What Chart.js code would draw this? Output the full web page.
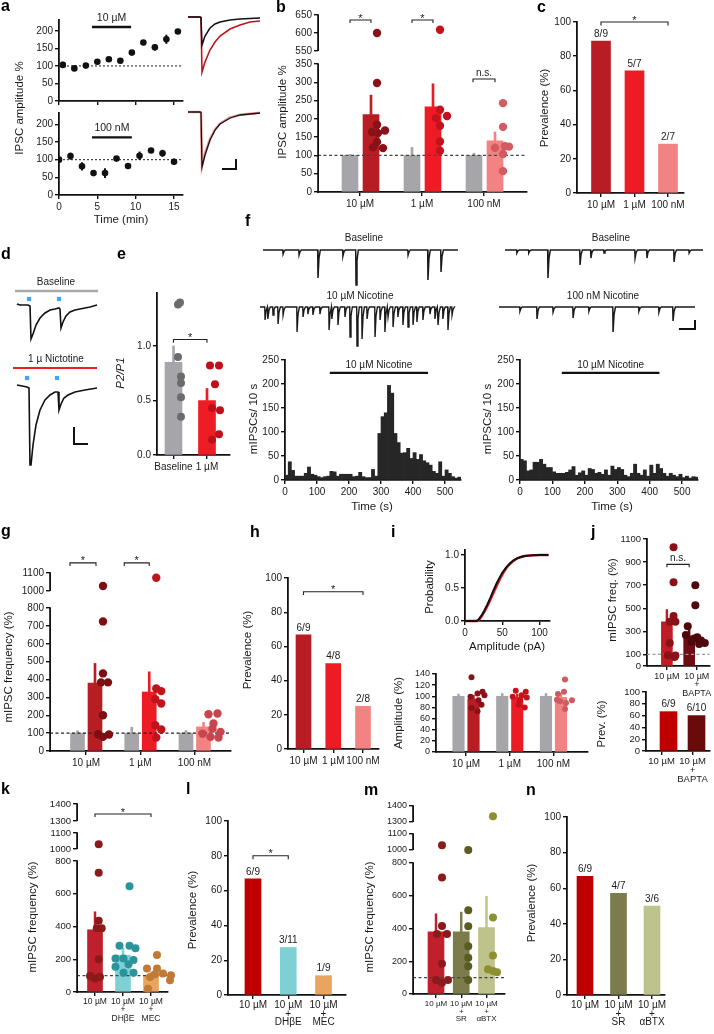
<!DOCTYPE html>
<html><head><meta charset="utf-8">
<script src="https://cdn.jsdelivr.net/npm/chart.js@4.4.1/dist/chart.umd.min.js"></script>
<style>
html,body{margin:0;padding:0;background:#fff;}
#wrap{position:relative;width:714px;height:1034px;overflow:hidden;background:#fff;}
#wrap canvas{position:absolute;left:0;top:0;pointer-events:none;}
.lab{position:absolute;font:bold 16px 'Liberation Sans',Arial,sans-serif;line-height:16px;color:#000;}
</style></head><body><div id="wrap"></div>
<script>
// ================= DATA =================
const doseCats=['10 µM','1 µM','100 nM'];
// a
const aTopTime=[0.5,2,3.5,5,6.5,8,9.5,11,12.5,14,15.5];
const aTopAmp=[103,93,101,112,119,115,138,167,153,176,198];
const aTopSem=[8,3,3,4,4,3,4,4,8,12,4];
const aBotTime=[0,1.5,3,4.5,6,7.5,9,10.5,12,13.5,15];
const aBotAmp=[100,110,81,62,62,103,82,111,126,118,94];
const aBotSem=[4,9,11,7,13,4,7,11,4,9,8];
const aTimeTicks=[0,5,10,15];
const aAmpTicks=[0,50,100,150,200];
const aTraceCtrl10=[[0,0],[12,0],[13,-5],[14,-280],[17,-190],[22,-110],[27,-70],[32,-50],[42,-30],[52,-20],[72,-10]];
const aTraceNic10=[[0,0],[12,0],[13,-5],[14,-550],[17,-450],[22,-330],[27,-250],[32,-190],[42,-120],[52,-80],[62,-50],[72,-40]];
const aTraceCtrl100=[[0,0],[12,0],[13,-5],[14,-550],[17,-430],[22,-280],[27,-180],[32,-120],[42,-60],[52,-30],[72,-10]];
const aTraceNic100=[[0,0],[12,0],[13,-5],[14,-540],[17,-410],[22,-270],[27,-175],[32,-115],[42,-55],[52,-28],[72,-8]];
// b
const bCtrl=[100,100,100], bCtrlSem=[3,22,6];
const bNic=[212,233,140], bNicSem=[53,63,24];
const bDots10=[600,298,184,168,164,161,137,122,120];
const bDots1=[609,225,202,208,181,138,113];
const bDots100=[243,178,121,125,124,104,57];
const bTicks=[0,50,100,150,200,250,300,350,550,600,650];
// c
const cPrev=[88.9,71.4,28.6], cFrac=['8/9','5/7','2/7'];
const prevTicks=[0,20,40,60,80,100];
// d
const dTraceBase=[[0,0],[3,-10],[11,-10],[13,-20],[14,-350],[16,-300],[19,-210],[23,-140],[28,-90],[33,-60],[38,-50],[42,-40],[43,-50],[44,-240],[46,-180],[49,-120],[53,-80],[58,-60],[63,-50],[68,-40],[73,-30],[80,-10]];
const dTraceNic=[[0,10],[5,0],[10,-10],[12,-20],[13,-790],[14,-790],[16,-590],[19,-390],[23,-240],[28,-140],[33,-90],[38,-60],[41,-60],[42,-240],[44,-180],[47,-120],[51,-90],[58,-60],[68,-40],[80,-20]];
const dStimBase=[12,42], dStimNic=[10,40];
// e
const eCats=['Baseline','1 µM'];
const eMean=[0.85,0.50], eSem=[0.15,0.11];
const eDotsBase=[1.40,1.38,0.90,0.72,0.66,0.53,0.35];
const eDotsNic=[0.82,0.82,0.65,0.43,0.41,0.19,0.14];
// f traces (event time s, amplitude pA)
const fBaseLT=[1.03,1.85,2.82,4.1,4.77,7.44,8.46,9.13], fBaseLA=[8,10,56,12,70,10,60,44];
const fNicLT=[0.26,0.41,0.67,0.93,1.19,1.91,2.22,2.47,2.73,3.09,3.56,3.71,4.02,4.38,4.64,5.0,5.26,5.52,5.93,6.19,6.44,6.6,6.86,7.11,7.37,7.63,7.89,8.09,8.4,8.76,9.02,9.18,9.43,9.69,9.9];
const fNicLA=[26,24,16,34,16,50,20,14,16,14,46,24,36,20,60,78,64,24,60,26,50,20,40,20,36,40,36,30,26,14,24,36,24,46,16];
const fBaseRT=[0.6,1.2,2.17,3.79,4.34,5.0,6.57,7.17,8.54,9.3], fBaseRA=[6,6,56,30,16,6,16,16,24,6];
const fNicRT=[1.07,1.94,2.76,3.78,4.59,5.82,7.14,8.16,8.88], fNicRA=[8,24,10,22,8,50,8,10,28];
// f histograms (mIPSCs per 10 s bin)
const fHistL=[10,38,20,8,8,8,14,27,12,10,7,5,7,8,18,17,8,12,12,12,12,7,8,16,7,5,5,22,8,97,132,140,197,181,97,78,56,57,66,45,57,43,53,40,36,31,18,14,38,8,21,14,7,4,6];
const fHistR=[43,40,19,21,37,37,43,33,26,26,17,14,14,14,16,21,28,10,15,19,10,24,22,14,16,12,21,10,29,22,26,22,10,7,14,33,14,10,21,8,31,14,33,24,14,8,14,10,7,12,5,8,4,7,6];
const fTimeTicks=[0,100,200,300,400,500];
const fCountTicks=[0,50,100,150,200,250];
const fStimL=[140,447], fStimR=[129,430];
// g
const gCtrl=[100,100,100], gCtrlSem=[13,33,15];
const gNic=[380,330,135], gNicSem=[110,113,25];
const gDots10=[1028,725,434,384,384,200,94,79,92];
const gDots1=[1074,350,335,290,266,144,120,75];
const gDots100=[206,210,154,125,97,107,79,75];
const gTicks=[0,100,200,300,400,500,600,700,800,1000,1100];
// h
const hPrev=[66.7,50,25], hFrac=['6/9','4/8','2/8'];
// i
const iCdfBlack=[[0,0],[15,0],[18,0.02],[22,0.08],[26,0.16],[30,0.25],[34,0.35],[38,0.46],[42,0.56],[46,0.65],[50,0.73],[55,0.81],[60,0.87],[65,0.92],[70,0.95],[75,0.97],[80,0.985],[90,0.995],[100,1],[112,1]];
const iCdfRed=[[0,0],[17,0],[20,0.03],[24,0.1],[28,0.18],[32,0.27],[36,0.37],[40,0.47],[44,0.57],[48,0.66],[52,0.74],[56,0.81],[60,0.86],[65,0.91],[70,0.95],[75,0.97],[80,0.985],[90,0.995],[100,1],[112,1]];
const iCtrl=[100,100,100], iCtrlSem=[4,5,5];
const iNic=[95,98,98], iNicSem=[7,6,7];
const iDots10=[134,108,105,99,102,93,85,79,73];
const iDots1=[110,108,102,99,98,93,85,80];
const iDots100=[130,108,104,94,93,91,88,77];
const iAmpTicks=[0,20,40,60,80,100,120,140];
// j
const jCats=['10 µM',['10 µM','+','BAPTA']];
const jMean=[383,262], jSem=[106,55];
const jDots10=[1028,725,434,384,384,200,94,79,92];
const jDotsBapta=[700,527,345,268,250,239,220,210,200,190];
const jTicks=[0,100,300,500,700,900,1100];
const jPrev=[66.7,60], jFrac=['6/9','6/10'];
// k
const kCats=['10 µM',['10 µM','+','DHβE'],['10 µM','+','MEC']];
const kMean=[380,225,100], kSem=[110,42,23];
const kDots10=[1030,728,435,390,390,200,98,82,92];
const kDotsDh=[646,283,283,267,205,205,195,170,154,117,117];
const kDotsMec=[226,144,144,113,109,92,103,72,20];
const kmTicks=[0,200,400,600,800,1000,1100,1300,1400];
// l
const lPrev=[66.7,27.3,11.1], lFrac=['6/9','3/11','1/9'];
// m
const mCats=['10 µM',['10 µM','+','SR'],['10 µM','+','αBTX']];
const mMean=[380,380,406], mSem=[110,120,191];
const mDots10=[1030,712,416,366,366,185,85,68,85];
const mDotsSr=[1000,511,414,292,221,169,85];
const mDotsBtx=[1336,467,235,151,141,133];
// n
const nPrev=[66.7,57.1,50], nFrac=['6/9','4/7','3/6'];

// ---- dot jitter (px, relative to the bar centre) ----
const bJit=[[6,6,6,14,1,7,6,2,12],[7,7,3,14,7,7,7],[8,8,0,10,14,8,8]];
const eJit=[[6.5,4.5,4.5,7.5,7.5,7.5,7.5],[3,12,8,5,13,12,5]];
const gJit=[[8,8,8,6,13,8,3,8,14],[7,7,12,6,12,6,12,7],[5,14,10,9,-1,17,7,15]];
const iJit=[[-2,9,4,-3,11,5,8,-2,4],[-1.5,8.5,4.5,-4.5,9.5,2.5,1.5,7.5],[4,3,-3,-4,11,-1,5,4]];
const jJit=[[7,7,7,3,9,3,1,8,9],[6.5,6.5,-1.5,-3.5,8.5,5.5,12.5,2.5,16.5,10.5]];
const kJit=[[3.7,3.7,3.7,1.7,6.7,3.7,-5,0,5],[6.5,-3.5,6.5,12.5,-7.5,0.5,10.5,5.5,-7.5,0.5,10.5],[6,-4,6,12,4,-1,20,19,-3]];
const mJit=[[6,6,6,1,11,6,0,6,12],[7,7,7,7,7,7,7],[6.5,6.5,6.5,1.5,6.5,10.5]];

// ================= SETUP =================
const W=714,H=1034;
const FONT="'Liberation Sans', Arial, Helvetica, sans-serif";
Chart.defaults.font.family=FONT;
Chart.defaults.font.size=10;
Chart.defaults.color='#1a1a1a';
const GRAY='#a6a6aa', C10='#b81d24', C1='#ed1c24', C100='#f38383';
const RED='#c00000';

class BrokenScale extends Chart.LinearScale {
  _sg(){const s=this.chart.canvas._segs;const tot=s.reduce((a,g)=>a+g.h+(g.gap||0),0);return {s,k:(this.bottom-this.top)/tot};}
  getPixelForValue(v){
    const {s,k}=this._sg(); let y=this.bottom;
    for(let i=0;i<s.length;i++){const g=s[i];
      if(v<=g.max||i===s.length-1) return y-(v-g.min)/(g.max-g.min)*g.h*k;
      y-=(g.h+(g.gap||0))*k;}
    return y;
  }
  getValueForPixel(p){
    const {s,k}=this._sg(); let y=this.bottom;
    for(let i=0;i<s.length;i++){const g=s[i];const top=y-g.h*k;
      if(p>=top||i===s.length-1) return g.min+(y-p)/(g.h*k)*(g.max-g.min);
      y=top-(g.gap||0)*k;}
    return 0;
  }
}
BrokenScale.id='broken';
BrokenScale.defaults={};
Chart.register(BrokenScale);
Chart.register({id:'brokenBorder',afterDraw(chart){
  const segs=chart.canvas._segs; if(!segs) return;
  const s=chart.scales.y,ctx=chart.ctx; ctx.save(); ctx.strokeStyle='#111'; ctx.lineWidth=1.8;
  const x=Math.round(s.right)+0.1; ctx.beginPath();
  segs.forEach(g=>{ctx.moveTo(x,s.getPixelForValue(g.min)+(g.min===0?0.9:0));ctx.lineTo(x,s.getPixelForValue(g.max)-0.7);});
  ctx.stroke(); ctx.restore();}});

function txt(items){return {id:'txt',afterDraw(chart){
  const ctx=chart.ctx;
  items.forEach(it=>{
    let x=it.x,y=it.y;
    if(it.d){x=chart.scales.x.getPixelForValue(it.x);y=chart.scales.y.getPixelForValue(it.y);}
    x+=it.dx||0;y+=it.dy||0;
    ctx.save();
    ctx.font=(it.st||'')+' '+(it.s||10)+'px '+FONT;
    ctx.fillStyle=it.c||'#1a1a1a';ctx.textAlign=it.al||'center';ctx.textBaseline=it.bl||'middle';
    ctx.translate(x,y); if(it.rot) ctx.rotate(it.rot*Math.PI/180);
    ctx.fillText(it.t,0,0); ctx.restore();
  });}};}

const wrap=document.getElementById('wrap');
function mk(area,cfg,segs){
  const c=document.createElement('canvas'); c.width=W;c.height=H;c.style.width=W+'px';c.style.height=H+'px';
  c._segs=segs; wrap.appendChild(c);
  const o=cfg.options,sc=o.scales,M=40;
  const xh=sc.x.display===false, yh=sc.y.display===false;
  Object.assign(o,{responsive:false,maintainAspectRatio:false,animation:false,devicePixelRatio:1,events:[]});
  o.layout={padding:{left:yh?area.l:area.l-M,top:area.t,right:W-area.r,bottom:xh?H-area.b:H-area.b-M}};
  o.plugins={legend:{display:false},tooltip:{enabled:false}};
  if(!xh) sc.x.afterFit=s=>{s.height=M;};
  if(!yh) sc.y.afterFit=s=>{s.width=M;};
  return new Chart(c,cfg);
}
const GRID={display:true,drawOnChartArea:false,drawTicks:true,tickLength:4,tickWidth:1.4,tickColor:'#111',color:'#111',lineWidth:1.4,offset:false};
function yAx(min,max,tv,o={}){return {type:o.broken?'broken':'linear',min,max,bounds:'data',
  afterBuildTicks:s=>{s.ticks=tv.map(v=>({value:v}));},
  ticks:{autoSkip:false,padding:2,font:{size:o.fs||10},color:'#1a1a1a',callback:o.fmt||(v=>String(v))},
  grid:GRID,border:{display:!o.broken,color:'#111',width:1.8}};}
function xAx(min,max,tv,labels,o={}){return {type:'linear',min,max,bounds:'data',offset:false,
  afterBuildTicks:s=>{s.ticks=tv.map(v=>({value:v}));},
  ticks:{autoSkip:false,maxRotation:0,minRotation:0,padding:o.pad??2,display:!o.noLabels,font:{size:o.fs||10,lineHeight:o.lh||1.2},color:'#1a1a1a',callback:(v,i)=>labels[i]},
  grid:GRID,border:{display:true,color:'#111',width:1.8}};}
const L=(pts,color,w,extra)=>Object.assign({type:'line',data:pts.map(p=>({x:p[0],y:p[1]})),borderColor:color,borderWidth:w,pointRadius:0,tension:0,fill:false,clip:false},extra||{});

function barPanel(area,S){
  const u=p=>p/S.sp, ds=[], T=[...(S.texts||[])];
  S.bars.forEach(b=>{
    const xs=b.vals.map((_,i)=>i+1+u(b.off||0));
    ds.push({type:'bar',data:xs.map((x,i)=>({x,y:b.vals[i]})),backgroundColor:b.color,barThickness:S.bw,grouped:false,borderWidth:0,order:5});
    if(b.sem) ds.push({type:'bar',data:xs.map((x,i)=>({x,y:[b.vals[i],b.vals[i]+b.sem[i]]})),backgroundColor:b.color,barThickness:S.ew||1.8,grouped:false,borderWidth:0,order:6});
    if(b.frac) b.frac.forEach((f,i)=>T.push({d:1,x:xs[i],y:b.vals[i],t:f,dy:-2,bl:'bottom',s:S.fracFs||10}));
  });
  (S.dots||[]).forEach(g=>{
    ds.push({type:'scatter',data:g.vals.map((v,i)=>({x:g.cat+u((g.off||0)+g.jit[i]),y:v})),backgroundColor:g.color,borderWidth:0,pointRadius:S.r||4,order:1,clip:false});
  });
  if(S.hline!=null) ds.push(L([[S.xmin,S.hline],[S.xmax,S.hline]],S.hcolor||'#333',1.2,{borderDash:[3,2.5],order:2}));
  (S.sig||[]).forEach(s=>{
    ds.push(L([[s.x1,s.y-s.d],[s.x1,s.y],[s.x2,s.y],[s.x2,s.y-s.d]],'#222',1.1,{order:0}));
    if(s.t==='*') T.push({d:1,x:(s.x1+s.x2)/2,y:s.y,t:'*',dy:1.5,bl:'alphabetic',s:11});
    else T.push({d:1,x:(s.x1+s.x2)/2,y:s.y,t:s.t,dy:-3,bl:'alphabetic',s:10});
  });
  const tOff=S.tickOff||S.cats.map(()=>0);
  return mk(area,{type:'bar',data:{datasets:ds},options:{scales:{
      x:xAx(S.xmin,S.xmax,S.cats.map((_,i)=>i+1+u(tOff[i])),S.cats,{fs:S.cfs,lh:S.clh}),
      y:S.y}}, plugins:[txt(T)]},S.segs);
}
function traceChart(area,xr,yr,datasets,texts){
  return mk(area,{type:'line',data:{datasets},options:{scales:{
    x:{type:'linear',display:false,min:xr[0],max:xr[1]},
    y:{type:'linear',display:false,min:yr[0],max:yr[1]}}},plugins:[txt(texts||[])]});
}
function spikeTrace(times,amps,end){const p=[[0,0]];times.forEach((t,i)=>{p.push([t-0.015,0],[t,-amps[i]],[t+0.05,-amps[i]*0.3],[t+0.12,0]);});p.push([end,0]);return p;}

// ================= PANEL a =================
function timeCourse(area,time,amp,sem,ymax,stim,stimY,stimTxt,showLabels,extraTexts){
  const ds=[
    {type:'scatter',data:time.map((t,i)=>({x:t,y:amp[i]})),backgroundColor:'#111',pointRadius:3.3,borderWidth:0,order:1},
    {type:'bar',data:time.map((t,i)=>({x:t,y:[amp[i]-sem[i],amp[i]+sem[i]]})),backgroundColor:'#111',barThickness:1.3,grouped:false,order:3},
    L([[0,100],[16.17,100]],'#333',1.1,{borderDash:[2,2],order:4}),
    L([[stim[0],stimY],[stim[1],stimY]],'#111',2.4,{order:2})];
  const T=[{d:1,x:(stim[0]+stim[1])/2,y:stimY,t:stimTxt,dy:-4,bl:'bottom',s:10.5},...(extraTexts||[])];
  return mk(area,{type:'bar',data:{datasets:ds},options:{scales:{
    x:xAx(0,16.17,aTimeTicks,aTimeTicks.map(String),{noLabels:!showLabels}),
    y:yAx(0,ymax,aAmpTicks)}},plugins:[txt(T)]});
}
timeCourse({l:59,t:20,r:183,b:101},aTopTime,aTopAmp,aTopSem,231,[4.3,9.4],211,'10 µM',false);
timeCourse({l:59,t:113,r:183,b:195},aBotTime,aBotAmp,aBotSem,232,[4.3,9.5],163,'100 nM',true,
  [{x:121,y:220,t:'Time (min)',s:11.5},{x:20,y:108,t:'IPSC amplitude %',rot:-90,s:11.5}]);
traceChart({l:186,t:10,r:262,b:80},[-2,74],[-630,70],[L(aTraceCtrl10,'#111',1.5),L(aTraceNic10,'#c0141c',1.6)]);
traceChart({l:186,t:105,r:262,b:175},[-2,74],[-630,70],[L(aTraceCtrl100,'#111',1.3),L(aTraceNic100,'#f4a3a3',2.6),L([[34,-570],[48,-570],[48,-470]],'#111',2)]);

// ================= PANEL b =================
barPanel({l:318,t:15,r:527,b:192},{sp:62,xmin:0.3226,xmax:3.6935,cats:doseCats,bw:16,ew:2,r:4.2,
  segs:[{min:0,max:350,h:128,gap:13},{min:550,max:650,h:36}],
  y:yAx(0,650,bTicks,{broken:true}),
  bars:[{off:-10,vals:bCtrl,sem:bCtrlSem,color:GRAY},{off:11,vals:bNic,sem:bNicSem,color:[C10,C1,C100]}],
  dots:[{cat:1,off:11,vals:bDots10,jit:bJit[0],color:'#8a1118'},{cat:2,off:11,vals:bDots1,jit:bJit[1],color:'#c4121c'},{cat:3,off:11,vals:bDots100,jit:bJit[2],color:'#d45a62'}],
  hline:100,hcolor:'#444',
  sig:[{x1:1-10/62,x2:1+11/62,y:636,d:8,t:'*'},{x1:2-10/62,x2:2+11/62,y:636,d:8,t:'*'},{x1:3-11/62,x2:3+11/62,y:309,d:9,t:'n.s.'}],
  texts:[{x:283,y:112,t:'IPSC amplitude %',rot:-90,s:11.5}]});

// ================= PANEL c =================
barPanel({l:577,t:22,r:684,b:193},{sp:33.5,xmin:0.2836,xmax:3.4776,cats:doseCats,bw:19,
  y:yAx(0,100,prevTicks),
  bars:[{off:0,vals:cPrev,color:[C10,C1,C100],frac:cFrac}],
  sig:[{x1:1,x2:3,y:100,d:2,t:'*'}],
  texts:[{x:545,y:108,t:'Prevalence (%)',rot:-90,s:11.5}]});

// ================= PANEL d =================
traceChart({l:10,t:285,r:100,b:345},[-7,83],[-410,190],[
  L(dTraceBase,'#111',1.6),
  L([[-2,130],[81,130]],'#a9a9a9',2.6),
  {type:'scatter',data:dStimBase.map(t=>({x:t,y:50})),backgroundColor:'#3fa9f5',pointStyle:'rect',pointRadius:3,borderWidth:0}
],[{x:56,y:282,t:'Baseline',s:10}]);
traceChart({l:10,t:360,r:100,b:470},[-7,83],[-840,260],[
  L(dTraceNic,'#111',1.6),
  L([[-4,180],[80,180]],'#ee1c24',2.2),
  {type:'scatter',data:dStimNic.map(t=>({x:t,y:80})),backgroundColor:'#3fa9f5',pointStyle:'rect',pointRadius:3,borderWidth:0},
  L([[57,-410],[57,-580],[71,-580]],'#111',2)
],[{x:56,y:359,t:'1 µ Nictotine',s:10}]);

// ================= PANEL e =================
barPanel({l:157,t:293,r:230,b:455},{sp:33.5,xmin:0.5075,xmax:2.687,cats:eCats,bw:17,ew:2,r:4,
  y:yAx(0,1.486,[0,0.5,1],{fmt:v=>v.toFixed(1)}),
  bars:[{off:0,vals:eMean,sem:eSem,color:[GRAY,'#ee1c24']}],
  dots:[{cat:1,off:0,vals:eDotsBase,jit:eJit[0],color:'#6b6b6b'},{cat:2,off:0,vals:eDotsNic,jit:eJit[1],color:'#bf0f1a'}],
  sig:[{x1:1,x2:2,y:1.06,d:0.03,t:'*'}],
  texts:[{x:121,y:373,t:'P2/P1',rot:-90,s:11.5,st:'italic'}]});

// ================= PANEL f =================
traceChart({l:260,t:242,r:460,b:292},[-0.154,10.103],[-84,16],[L(spikeTrace(fBaseLT,fBaseLA,10),'#1a1a1a',1.5)],[{x:364,y:238,t:'Baseline',s:10}]);
traceChart({l:257,t:290,r:457,b:350},[-0.155,10.155],[-86,34],[L(spikeTrace(fNicLT,fNicLA,10),'#1a1a1a',1.4)],[{x:360,y:296,t:'10 µM Nicotine',s:10}]);
traceChart({l:502,t:242,r:706,b:292},[-0.152,10.152],[-84,16],[L(spikeTrace(fBaseRT,fBaseRA,10),'#1a1a1a',1.5)],[{x:611,y:238,t:'Baseline',s:10}]);
traceChart({l:496,t:290,r:698,b:350},[-0.153,10.153],[-86,34],[L(spikeTrace(fNicRT,fNicRA,10),'#1a1a1a',1.5),L([[9.18,-44],[10,-44],[10,-26]],'#111',2)],[{x:603,y:296,t:'100 nM Nicotine',s:10}]);
function hist(area,vals,xmax,stim,titleX,ytitleX){
  const ds=[
    {type:'bar',data:vals.map((v,i)=>({x:i*10+5,y:v})),backgroundColor:'#262626',borderColor:'#262626',borderWidth:0,barPercentage:1,categoryPercentage:1,order:3},
    L([[stim[0],223],[stim[1],223]],'#111',2.2,{order:1})];
  return mk(area,{type:'bar',data:{datasets:ds},options:{scales:{
    x:xAx(0,xmax,fTimeTicks,fTimeTicks.map(String)),
    y:yAx(0,250,fCountTicks)}},plugins:[txt([
      {d:1,x:(stim[0]+stim[1])/2,y:223,t:'10 µM Nicotine',dy:-3,bl:'bottom',s:10},
      {x:titleX,y:507,t:'Time (s)',s:11.5},
      {x:ytitleX,y:419,t:'mIPSCs/ 10 s',rot:-90,s:11.5}])]});
}
hist({l:285,t:360,r:461,b:480},fHistL,550,fStimL,372,254);
hist({l:520,t:360,r:698,b:480},fHistR,549,fStimR,612,488);

// ================= PANEL g =================
barPanel({l:50,t:573,r:231,b:751},{sp:54.25,xmin:0.3364,xmax:3.673,cats:doseCats,bw:14,ew:2,r:4.2,
  segs:[{min:0,max:800,h:143,gap:17},{min:1000,max:1100,h:18}],
  y:yAx(0,1100,gTicks,{broken:true}),
  bars:[{off:-8.5,vals:gCtrl,sem:gCtrlSem,color:GRAY},{off:9,vals:gNic,sem:gNicSem,color:[C10,C1,C100]}],
  dots:[{cat:1,off:9,vals:gDots10,jit:gJit[0],color:'#7d0f14'},{cat:2,off:9,vals:gDots1,jit:gJit[1],color:'#c0141c'},{cat:3,off:9,vals:gDots100,jit:gJit[2],color:'#c8454d'}],
  hline:100,hcolor:'#222',
  sig:[{x1:1-16/54.25,x2:1+10/54.25,y:1156,d:17,t:'*'},{x1:2-16/54.25,x2:2+9/54.25,y:1156,d:17,t:'*'}],
  texts:[{x:9,y:667,t:'mIPSC frequency (%)',rot:-90,s:11.5}]});

// ================= PANEL h =================
barPanel({l:288,t:578,r:379,b:749},{sp:29.75,xmin:0.479,xmax:3.538,cats:doseCats,bw:15,
  y:yAx(0,100,prevTicks),
  bars:[{off:0,vals:hPrev,color:[C10,C1,C100],frac:hFrac}],
  sig:[{x1:1,x2:3,y:92,d:2,t:'*'}],
  texts:[{x:248,y:650,t:'Prevalence (%)',rot:-90,s:11.5}]});

// ================= PANEL i =================
mk({l:465,t:550,r:550,b:621},{type:'line',data:{datasets:[L(iCdfBlack,'#111',2),L(iCdfRed,'#ee1c24',2.4)]},
  options:{scales:{x:xAx(0,114,[0,50,100],['0','50','100']),y:yAx(0,1.076,[0,0.5,1],{fmt:v=>v.toFixed(1)})}},
  plugins:[txt([{x:507,y:647,t:'Amplitude (pA)',s:11.5},{x:430,y:587,t:'Probability',rot:-90,s:11.5}])]});
barPanel({l:436,t:674,r:588,b:752},{sp:43.75,xmin:0.314,xmax:3.789,cats:doseCats,bw:11.5,ew:1.8,r:3,
  y:yAx(0,140,iAmpTicks,{fs:9}),
  bars:[{off:-7.5,vals:iCtrl,sem:iCtrlSem,color:GRAY},{off:7.5,vals:iNic,sem:iNicSem,color:[C10,C1,C100]}],
  dots:[{cat:1,off:7.5,vals:iDots10,jit:iJit[0],color:'#8a1118'},{cat:2,off:7.5,vals:iDots1,jit:iJit[1],color:'#c4121c'},{cat:3,off:7.5,vals:iDots100,jit:iJit[2],color:'#d05860'}],
  texts:[{x:399,y:713,t:'Amplitude (%)',rot:-90,s:11.5}]});

// ================= PANEL j =================
barPanel({l:647,t:539,r:713,b:666},{sp:23.5,xmin:0.1064,xmax:2.915,cats:jCats,cfs:9,clh:0.95,bw:11,ew:1.8,r:4,tickOff:[0,8],
  y:yAx(0,1100,jTicks,{fs:9.5}),
  bars:[{off:0,vals:jMean,sem:jSem,color:['#bf1d26','#6e0e14']}],
  dots:[{cat:1,off:0,vals:jDots10,jit:jJit[0],color:'#8a1118'},{cat:2,off:0,vals:jDotsBapta,jit:jJit[1],color:'#4e070b'}],
  hline:100,hcolor:'#999',
  sig:[{x1:1,x2:2,y:880,d:25,t:'n.s.'}],
  texts:[{x:613,y:600,t:'mIPSC freq. (%)',rot:-90,s:11.5}]});
barPanel({l:646,t:692,r:710,b:751},{sp:28,xmin:0.196,xmax:2.482,cats:jCats,cfs:9.5,clh:0.95,bw:17,tickOff:[-7,-4],
  y:yAx(0,100,prevTicks,{fs:9.5}),
  bars:[{off:0,vals:jPrev,color:[RED,'#6b0a0a'],frac:jFrac}],
  texts:[{x:602,y:724,t:'Prev. (%)',rot:-90,s:11.5}]});

// ================= PANEL k =================
barPanel({l:77,t:804,r:168,b:992},{sp:28,xmin:0.357,xmax:3.607,cats:kCats,cfs:8.5,clh:0.95,bw:15,ew:1.8,r:4,
  segs:[{min:0,max:800,h:131,gap:12},{min:1000,max:1100,h:16,gap:12},{min:1300,max:1400,h:17}],
  y:yAx(0,1400,kmTicks,{broken:true,fs:9.5}),
  bars:[{off:0,vals:kMean,sem:kSem,color:['#c0202c','#7fd0d5','#e9a45e']}],
  dots:[{cat:1,vals:kDots10,jit:kJit[0],color:'#8b1a1a'},{cat:2,vals:kDotsDh,jit:kJit[1],color:'#2a939c'},{cat:3,vals:kDotsMec,jit:kJit[2],color:'#c07a35'}],
  hline:100,hcolor:'#444',
  sig:[{x1:1,x2:3,y:1341,d:18,t:'*'}],
  texts:[{x:33,y:917,t:'mIPSC frequency (%)',rot:-90,s:11.5}]});

// ================= PANEL l =================
barPanel({l:228,t:821,r:346,b:995},{sp:35.25,xmin:0.291,xmax:3.638,cats:kCats,cfs:10,clh:0.85,bw:16,
  y:yAx(0,100,prevTicks),
  bars:[{off:0,vals:lPrev,color:[RED,'#7fd0d5','#e9a45e'],frac:lFrac}],
  sig:[{x1:1,x2:2,y:80,d:2,t:'*'}],
  texts:[{x:193,y:910,t:'Prevalence (%)',rot:-90,s:11.5}]});

// ================= PANEL m =================
barPanel({l:413,t:806,r:505,b:994},{sp:25.25,xmin:0.089,xmax:3.733,cats:mCats,cfs:8,clh:0.95,bw:16,ew:1.8,r:4,
  segs:[{min:0,max:800,h:131,gap:13},{min:1000,max:1100,h:16,gap:12},{min:1300,max:1400,h:16}],
  y:yAx(0,1400,kmTicks,{broken:true,fs:9}),
  bars:[{off:0,vals:mMean,sem:mSem,color:['#c0202c','#7b7b4b','#bec28b']}],
  dots:[{cat:1,vals:mDots10,jit:mJit[0],color:'#8b1a1a'},{cat:2,vals:mDotsSr,jit:mJit[1],color:'#5b5b22'},{cat:3,vals:mDotsBtx,jit:mJit[2],color:'#8d8f32'}],
  hline:100,hcolor:'#444',
  texts:[{x:370,y:917,t:'mIPSC frequency (%)',rot:-90,s:11.5}]});

// ================= PANEL n =================
barPanel({l:567,t:817,r:665,b:995},{sp:33.5,xmin:0.463,xmax:3.388,cats:mCats,cfs:10,clh:0.85,bw:16,
  y:yAx(0,100,prevTicks),
  bars:[{off:0,vals:nPrev,color:[RED,'#7b7b4b','#bec28b'],frac:nFrac}],
  texts:[{x:532,y:903,t:'Prevalence (%)',rot:-90,s:11.5}]});

// ================= panel letters =================
[['a',1,-2],['b',276,-1],['c',537,-1],['d',1,246],['e',117,246],['f',245,213],['g',1,523],['h',250,524],['i',391,524],['j',591,524],['k',1,781],['l',186,781],['m',364,782],['n',526,782]]
.forEach(([t,x,y])=>{const d=document.createElement('div');d.className='lab';d.textContent=t;d.style.left=x+'px';d.style.top=y+'px';wrap.appendChild(d);});
</script></body></html>
